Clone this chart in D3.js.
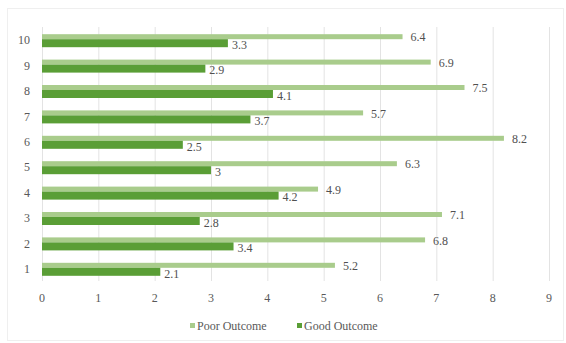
<!DOCTYPE html>
<html><head><meta charset="utf-8">
<script src="https://cdn.jsdelivr.net/npm/d3@7"></script>
<style>body{margin:0;background:#fff}svg{display:block}</style>
</head><body>
<svg id="c" width="566" height="343"></svg>
<script>
const categories = ["1","2","3","4","5","6","7","8","9","10"];
const poorOutcome = [5.2, 6.8, 7.1, 4.9, 6.3, 8.2, 5.7, 7.5, 6.9, 6.4];
const goodOutcome = [2.1, 3.4, 2.8, 4.2, 3, 2.5, 3.7, 4.1, 2.9, 3.3];
const xTicks = [0,1,2,3,4,5,6,7,8,9];
const seriesNames = ["Poor Outcome", "Good Outcome"];
const colors = {poor: "#a9cc8c", good: "#5a9e36"};
const FONT = "Liberation Serif";

const svg = d3.select("#c");
svg.append("rect").attr("x",7.5).attr("y",8.5).attr("width",556).attr("height",332)
  .attr("fill","#fff").attr("stroke","#efefef");

const pLeft = 42, pRight = 549, pTop = 27, pBottom = 281;
const x = d3.scaleLinear().domain([0,9]).range([pLeft,pRight]);
const y = d3.scaleBand().domain(categories.slice().reverse()).range([pTop,pBottom]).paddingInner(0.5).paddingOuter(0.25);

function txt(sel){ return sel.attr("font-family",FONT).style("font-family",FONT).attr("font-size",12).style("font-size","12px"); }

// gridlines
svg.append("g").selectAll("line").data(xTicks).join("line")
  .attr("x1",d=>x(d)+0.5).attr("x2",d=>x(d)+0.5).attr("y1",pTop).attr("y2",pBottom)
  .attr("stroke","#e3e3e3").attr("stroke-width",1);

const bw = y.bandwidth();
const poorH = 5, goodH = 8;
const data = categories.map((c,i)=>({c, poor: poorOutcome[i], good: goodOutcome[i]}));

svg.append("g").selectAll("rect").data(data).join("rect")
  .attr("x",x(0)).attr("y",d=>y(d.c)+bw/2-poorH-0.5).attr("width",d=>x(d.poor)-x(0)).attr("height",poorH)
  .attr("fill",colors.poor);
svg.append("g").selectAll("rect").data(data).join("rect")
  .attr("x",x(0)).attr("y",d=>y(d.c)+bw/2-0.5).attr("width",d=>x(d.good)-x(0)).attr("height",goodH)
  .attr("fill",colors.good);

svg.append("g").selectAll("text").data(data).join("text").call(txt)
  .attr("x",d=>x(d.poor)+8).attr("y",d=>y(d.c)+bw/2-2.5).attr("dy","0.35em")
  .attr("fill","#505050").text(d=>d.poor);
svg.append("g").selectAll("text").data(data).join("text").call(txt)
  .attr("x",d=>x(d.good)+4).attr("y",d=>y(d.c)+bw/2+5).attr("dy","0.35em")
  .attr("fill","#505050").text(d=>d.good);

svg.append("g").selectAll("text").data(categories).join("text").call(txt)
  .attr("x",30).attr("y",d=>y(d)+bw/2+0.5).attr("dy","0.35em").attr("text-anchor","end")
  .attr("fill","#595959").text(d=>d);

svg.append("g").selectAll("text").data(xTicks).join("text").call(txt)
  .attr("x",d=>x(d)).attr("y",298).attr("dy","0.35em").attr("text-anchor","middle")
  .attr("fill","#595959").text(d=>d);

const leg = svg.append("g");
const legItems = [{n:seriesNames[0],c:colors.poor,x:190},{n:seriesNames[1],c:colors.good,x:297}];
legItems.forEach(it=>{
  leg.append("rect").attr("x",it.x).attr("y",323).attr("width",5).attr("height",5).attr("fill",it.c);
  leg.append("text").call(txt).attr("x",it.x+7).attr("y",326).attr("dy","0.35em")
    .attr("fill","#595959").text(it.n);
});
</script>
</body></html>
